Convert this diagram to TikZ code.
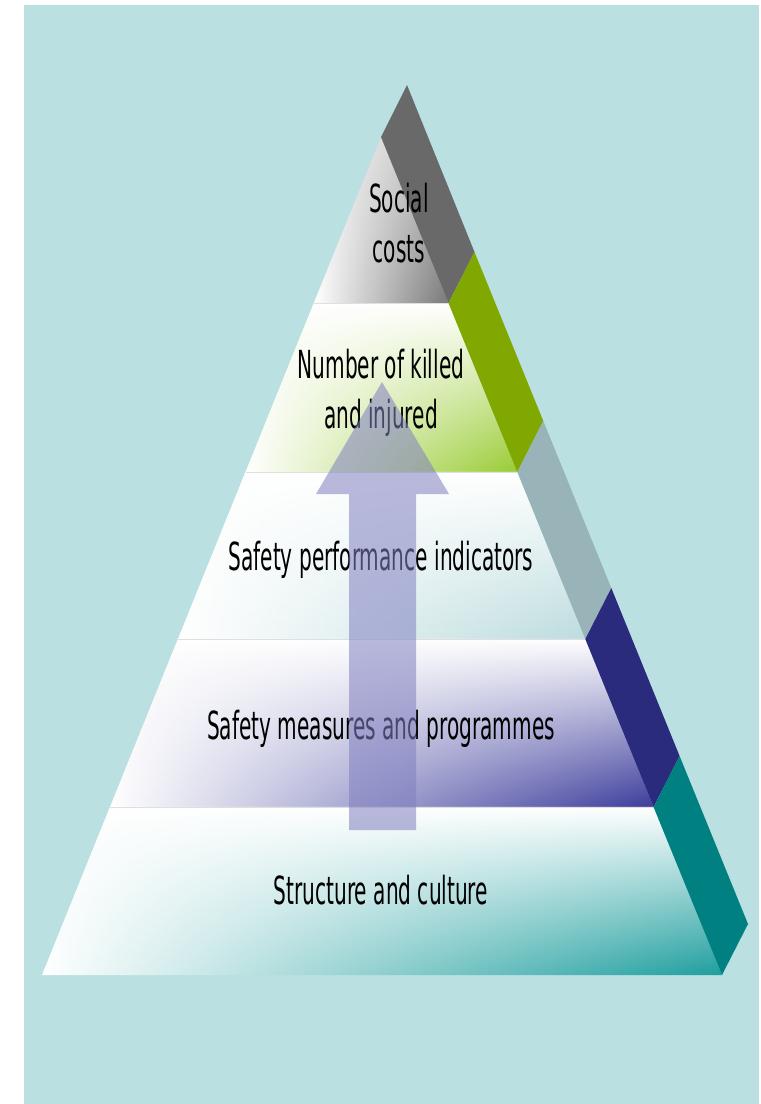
\documentclass[tikz,border=0pt]{standalone}
\usepackage{fontspec}
\usetikzlibrary{fadings}
\newfontfamily\levelfont[FakeStretch=0.52]{DejaVu Sans}

\definecolor{bgteal}{HTML}{BAE0E2}
\definecolor{sidegray}{HTML}{696969}
\definecolor{sidegreen}{HTML}{80A800}
\definecolor{sideslate}{HTML}{99B4B8}
\definecolor{sidenavy}{HTML}{2B2B7E}
\definecolor{sideteal}{HTML}{008080}
\definecolor{facegray}{HTML}{7A7A7A}
\definecolor{facegreen}{HTML}{99CC33}
\definecolor{faceslate}{HTML}{BCDCDE}
\definecolor{facenavy}{HTML}{3C3C9C}
\definecolor{faceteal}{HTML}{1E9E9E}
\definecolor{arrowlav}{HTML}{8080C0}

\tikzfading[name=fadedown, top color=transparent!0, middle color=transparent!88, bottom color=transparent!100]

\tikzset{every picture/.style={line width=0.75pt}}
\tikzset{
  levellabel/.style={font=\levelfont\fontsize{29}{37.5}\selectfont, align=center, inner sep=0pt, text=black},
  bandline/.style={draw=gray!25, line width=0.4pt},
  whitefade/.style={fill=white, path fading=fadedown}
}

\begin{document}
\begin{tikzpicture}[x=0.75pt,y=0.75pt,yscale=-1,xscale=1]
		\useasboundingbox (0,0) rectangle (761,1104);

		%Shape: Rectangle [background]
		\fill [bgteal] (24,5) rectangle (759,1104) ;

		%Shape: Trapezoid [level 1]
		\shade [left color=white, right color=facegray] (381,137) -- (448.5,303) -- (313.8,303) -- cycle ;
		\fill [whitefade, fill opacity=0.5] (381,137) -- (448.5,303) -- (313.8,303) -- cycle ;
		%Shape: Trapezoid [level 2]
		\shade [left color=white, right color=facegreen] (313.8,303) -- (448.5,303) -- (517.3,472) -- (245.5,472) -- cycle ;
		\fill [whitefade] (313.8,303) -- (448.5,303) -- (517.3,472) -- (245.5,472) -- cycle ;
		%Shape: Trapezoid [level 3]
		\shade [left color=white, right color=faceslate] (245.5,472) -- (517.3,472) -- (585.3,639) -- (177.9,639) -- cycle ;
		\fill [whitefade] (245.5,472) -- (517.3,472) -- (585.3,639) -- (177.9,639) -- cycle ;
		%Shape: Trapezoid [level 4]
		\shade [left color=white, right color=facenavy] (177.9,639) -- (585.3,639) -- (653.6,807) -- (110,807) -- cycle ;
		\fill [whitefade] (177.9,639) -- (585.3,639) -- (653.6,807) -- (110,807) -- cycle ;
		%Shape: Trapezoid [level 5]
		\shade [left color=white, right color=faceteal] (110,807) -- (653.6,807) -- (722,975) -- (42,975) -- cycle ;
		\fill [whitefade] (110,807) -- (653.6,807) -- (722,975) -- (42,975) -- cycle ;

		%Straight Lines [level borders]
		\draw [bandline] (313.8,303) -- (448.5,303) ;
		\draw [bandline] (245.5,472) -- (517.3,472) ;
		\draw [bandline] (177.9,639) -- (585.3,639) ;
		\draw [bandline] (110,807) -- (653.6,807) ;

		%Shape: Side strips
		\fill [sidegray] (381,137) -- (407,85) -- (474.5,252) -- (448.5,303) -- cycle ;
		\fill [sidegreen] (448.5,303) -- (474.5,252) -- (543.3,421) -- (517.3,472) -- cycle ;
		\fill [sideslate] (517.3,472) -- (543.3,421) -- (611.3,588) -- (585.3,639) -- cycle ;
		\fill [sidenavy] (585.3,639) -- (611.3,588) -- (679.6,756) -- (653.6,807) -- cycle ;
		\fill [sideteal] (653.6,807) -- (679.6,756) -- (748,924) -- (722,975) -- cycle ;

		% Text Node
		\node [levellabel] (social) at (399,223) {Social\\costs};
		% Text Node
		\node [levellabel] (killed) at (381,393) {Number of killed\\and injured};
		% Text Node
		\node [levellabel] (indicators) at (381,560) {Safety performance indicators};
		% Text Node
		\node [levellabel] (measures) at (381,729) {Safety measures and programmes};
		% Text Node
		\node [levellabel] (culture) at (381,890) {Structure and culture};

		%Shape: Up Arrow
		\fill [arrowlav, fill opacity=0.55] (349,830) -- (349,494) -- (316,494) -- (382,382) -- (449,494) -- (416,494) -- (416,830) -- cycle ;

\end{tikzpicture}
\end{document}
